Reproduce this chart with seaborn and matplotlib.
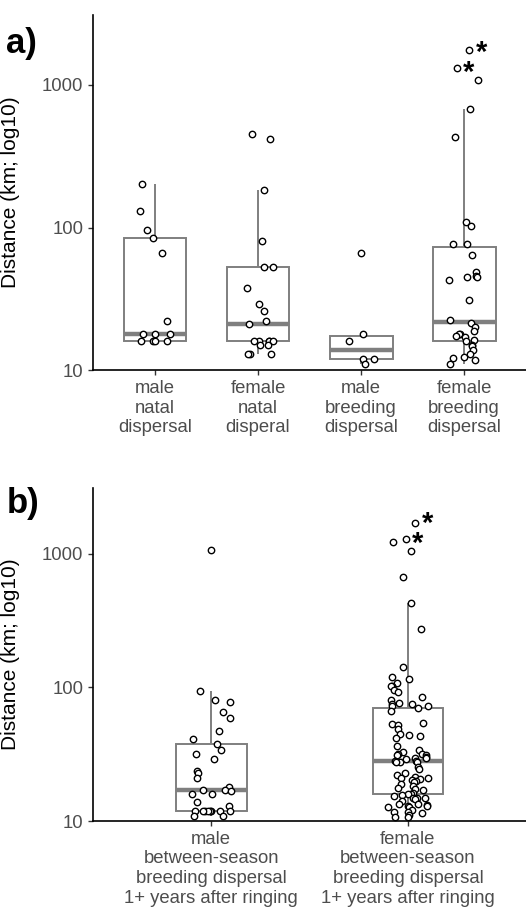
import numpy as np
import pandas as pd
import matplotlib
matplotlib.use('AGG')
import matplotlib.pyplot as plt
from matplotlib.ticker import NullLocator
import seaborn as sns

# ---- panel a: dispersal distances (km) ----
male_natal = [203, 130, 96, 84, 66, 22, 18, 18, 18, 16, 16, 16, 16]
female_natal = [450, 420, 184, 81, 53, 53, 38, 29, 26, 22, 21,
                16, 16, 16, 16, 16, 15, 15, 13, 13, 13]
male_breeding = [66, 18, 16, 12, 12, 11]
female_breeding = [1745, 1312, 1072, 678, 432, 109, 103, 77, 77, 64, 49, 46, 45, 45, 43, 31,
                   22.4, 21.4, 20, 19, 18, 18, 17.5, 17, 16.3, 16, 15, 14.8, 14, 13,
                   12.5, 12.2, 11.9, 11.1]
labels_a = ['male\nnatal\ndispersal', 'female\nnatal\ndisperal',
            'male\nbreeding\ndispersal', 'female\nbreeding\ndispersal']
starred_a = [1745, 1312]

# ---- panel b: between-season breeding dispersal ----
male_between = [1070, 94.5, 80, 78, 65, 59, 47.5, 41, 37.5, 34, 31.6, 29, 23.7, 22.7, 21,
                17.9, 17, 17, 16.7, 15.8, 15.8, 13.8, 13,
                11.9, 11.9, 11.9, 11.9, 11.9, 11.9, 11.9, 11.9, 10.9, 10.9]
female_between = [1695, 1288, 1230, 1052, 666, 425, 271, 142,
                  119, 116, 108, 103, 102, 96, 92, 84, 81, 76, 75, 75, 72, 72,
                  70, 67, 54, 53.6, 52, 48.6, 45, 43.8, 43, 42, 36.5, 33.9, 32.6, 31.9, 31.6, 31.1, 31.1,
                  30, 29.8, 29.5, 29.3, 28.2, 28, 27.8, 27.6, 27.4,
                  25.4, 24.6, 23, 22, 21.3, 20.8, 20.8, 20.6, 20.2, 19.9, 19.6, 18.8,
                  18.2, 17.8, 17.5, 17.2, 16.3, 15.8, 15.8, 15.6, 15.5, 14.9, 14.8, 14.8, 14.6, 14.1,
                  13.5, 13.4, 13.2, 13, 13, 12.8, 12.8,
                  12, 11.7, 11.7, 11.4, 11, 10.8, 10.7]
labels_b = ['male\nbetween-season\nbreeding dispersal\n1+ years after ringing',
            'female\nbetween-season\nbreeding dispersal\n1+ years after ringing']
starred_b = [1695, 1288]

plt.rcParams['font.family'] = ['Liberation Sans', 'DejaVu Sans']
np.random.seed(266)

GREY = '#7f7f7f'


def draw_panel(ax, groups, labels, box_w, jit):
    df = pd.DataFrame({'group': np.repeat(labels, [len(g) for g in groups]),
                       'dist': np.concatenate([np.array(g, dtype=float) for g in groups])})
    sns.boxplot(data=df, x='group', y='dist', order=labels, ax=ax, width=box_w,
                color='white', linecolor=GREY, linewidth=1.4, showfliers=False,
                showcaps=False, whis=1.5, medianprops=dict(linewidth=3.2),
                log_scale=(False, True))
    sns.stripplot(data=df, x='group', y='dist', order=labels, ax=ax, jitter=jit,
                  color='white', edgecolor='black', linewidth=1.0, size=4.6,
                  zorder=3, log_scale=(False, True))
    ax.set_ylim(10, 3100)
    ax.set_xlim(-0.6, len(labels) - 0.4)
    ax.set_yticks([10, 100, 1000])
    ax.set_yticklabels(['10', '100', '1000'])
    ax.yaxis.set_minor_locator(NullLocator())
    ax.set_xlabel('')
    ax.set_ylabel('Distance (km; log10)', fontsize=15, color='black')
    ax.yaxis.set_label_coords(-0.17, 0.5)
    for s in ['top', 'right']:
        ax.spines[s].set_visible(False)
    for s in ['left', 'bottom']:
        ax.spines[s].set_linewidth(1.2)
        ax.spines[s].set_color('black')
    ax.tick_params(axis='both', length=3.5, width=1, color='#333333',
                   labelcolor='#4d4d4d', labelsize=13.3)
    for t in ax.get_xticklabels():
        t.set_linespacing(1.2)


def star_points(ax, values, dys):
    # put an asterisk just right of the jittered point holding each value
    for val, dy in zip(values, dys):
        for coll in ax.collections:
            offs = coll.get_offsets()
            hit = np.where(np.isclose(offs[:, 1], val))[0]
            if len(hit):
                x, y = offs[hit[0]]
                ax.annotate('*', (x, y), xytext=(8.6, dy), textcoords='offset points',
                            fontsize=21, fontweight='bold', ha='center', va='center')
                break


fig = plt.figure(figsize=(5.26, 9.10), dpi=100)
ax_a = fig.add_axes([0.177, 0.593, 0.823, 0.391])
ax_b = fig.add_axes([0.177, 0.0978, 0.823, 0.366])

draw_panel(ax_a, [male_natal, female_natal, male_breeding, female_breeding], labels_a, 0.61, 0.15)
draw_panel(ax_b, [male_between, female_between], labels_b, 0.36, 0.1)

star_points(ax_a, starred_a, [-2.2, -3.6])
star_points(ax_b, starred_b, [-0.7, -3.6])

fig.text(0.012, 0.970, 'a)', fontsize=25, fontweight='bold', va='top')
fig.text(0.012, 0.4648, 'b)', fontsize=25, fontweight='bold', va='top')

fig.savefig('out.png', dpi=100)
